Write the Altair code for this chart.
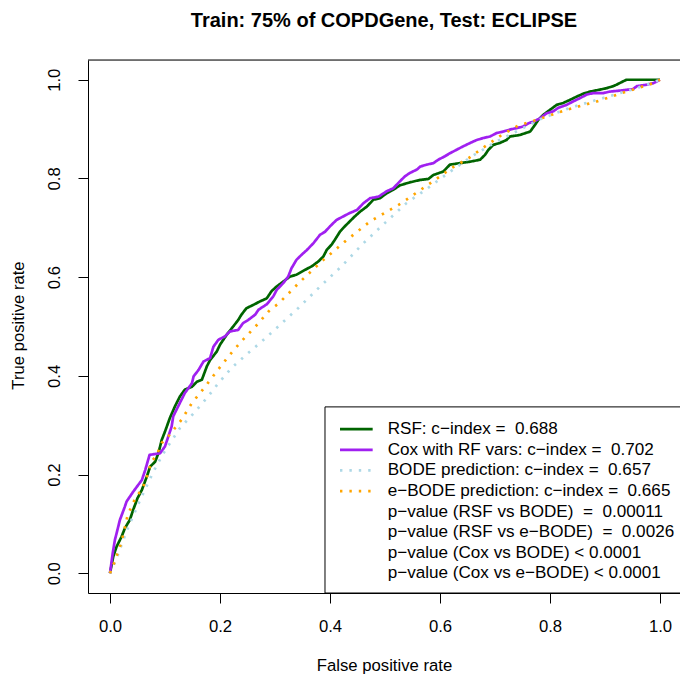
import altair as alt
import pandas as pd

FONT = "Liberation Sans"

# ---- data ----
rsf_fpr = [0, 0.006, 0.012, 0.021, 0.027, 0.036, 0.042, 0.05, 0.058, 0.067, 0.073, 0.082, 0.088, 0.094, 0.1, 0.109, 0.118, 0.127, 0.136, 0.149, 0.158, 0.167, 0.176, 0.182, 0.194, 0.2, 0.212, 0.224, 0.233, 0.239, 0.248, 0.261, 0.273, 0.285, 0.294, 0.303, 0.315, 0.327, 0.339, 0.355, 0.367, 0.379, 0.388, 0.394, 0.403, 0.409, 0.418, 0.427, 0.436, 0.445, 0.455, 0.467, 0.479, 0.491, 0.503, 0.515, 0.527, 0.545, 0.564, 0.579, 0.588, 0.606, 0.618, 0.636, 0.655, 0.673, 0.682, 0.688, 0.697, 0.709, 0.721, 0.727, 0.745, 0.764, 0.773, 0.779, 0.788, 0.8, 0.812, 0.824, 0.836, 0.849, 0.861, 0.873, 0.891, 0.903, 0.915, 0.921, 0.93, 0.939, 1.0]
rsf_tpr = [0, 0.034, 0.054, 0.074, 0.091, 0.108, 0.128, 0.152, 0.169, 0.196, 0.216, 0.226, 0.243, 0.27, 0.287, 0.315, 0.338, 0.358, 0.372, 0.378, 0.388, 0.392, 0.419, 0.432, 0.449, 0.463, 0.483, 0.5, 0.513, 0.524, 0.537, 0.544, 0.551, 0.557, 0.572, 0.581, 0.591, 0.601, 0.605, 0.615, 0.622, 0.632, 0.642, 0.655, 0.666, 0.676, 0.692, 0.703, 0.713, 0.723, 0.733, 0.743, 0.757, 0.76, 0.77, 0.777, 0.786, 0.792, 0.797, 0.799, 0.807, 0.814, 0.828, 0.831, 0.834, 0.838, 0.848, 0.858, 0.868, 0.872, 0.878, 0.885, 0.888, 0.895, 0.909, 0.919, 0.929, 0.939, 0.949, 0.953, 0.959, 0.966, 0.972, 0.976, 0.98, 0.983, 0.987, 0.99, 0.995, 1.0, 1.0]

cox_fpr = [0, 0.005, 0.009, 0.012, 0.018, 0.027, 0.03, 0.042, 0.058, 0.064, 0.072, 0.091, 0.1, 0.106, 0.112, 0.115, 0.127, 0.136, 0.149, 0.152, 0.161, 0.17, 0.182, 0.188, 0.197, 0.209, 0.218, 0.233, 0.242, 0.251, 0.264, 0.27, 0.285, 0.297, 0.303, 0.315, 0.324, 0.33, 0.339, 0.348, 0.358, 0.37, 0.382, 0.391, 0.4, 0.412, 0.424, 0.436, 0.449, 0.461, 0.473, 0.488, 0.503, 0.515, 0.527, 0.536, 0.545, 0.558, 0.564, 0.576, 0.588, 0.597, 0.609, 0.618, 0.63, 0.642, 0.655, 0.667, 0.679, 0.691, 0.703, 0.715, 0.727, 0.739, 0.751, 0.761, 0.77, 0.782, 0.794, 0.806, 0.815, 0.83, 0.842, 0.855, 0.867, 0.879, 0.897, 0.909, 0.927, 0.951, 0.958, 0.976, 0.988, 1.0]
cox_tpr = [0, 0.041, 0.068, 0.081, 0.108, 0.135, 0.145, 0.165, 0.189, 0.209, 0.24, 0.243, 0.257, 0.277, 0.297, 0.318, 0.345, 0.365, 0.385, 0.399, 0.412, 0.429, 0.436, 0.459, 0.473, 0.48, 0.49, 0.493, 0.507, 0.513, 0.524, 0.534, 0.545, 0.561, 0.574, 0.588, 0.601, 0.618, 0.635, 0.645, 0.655, 0.669, 0.686, 0.692, 0.703, 0.716, 0.723, 0.73, 0.736, 0.75, 0.76, 0.763, 0.774, 0.78, 0.794, 0.804, 0.811, 0.818, 0.824, 0.828, 0.831, 0.838, 0.845, 0.851, 0.858, 0.865, 0.872, 0.878, 0.882, 0.885, 0.892, 0.895, 0.899, 0.902, 0.905, 0.912, 0.915, 0.922, 0.932, 0.936, 0.943, 0.949, 0.956, 0.963, 0.97, 0.973, 0.973, 0.976, 0.978, 0.981, 0.987, 0.99, 0.993, 1.0]

bode_fpr = [0, 0.012, 0.03, 0.055, 0.079, 0.097, 0.127, 0.152, 0.176, 0.197, 0.221, 0.248, 0.276, 0.303, 0.342, 0.382, 0.421, 0.461, 0.5, 0.539, 0.57, 0.615, 0.658, 0.703, 0.751, 0.782, 0.836, 0.897, 0.958, 1.0]
bode_tpr = [0, 0.03, 0.085, 0.149, 0.206, 0.243, 0.294, 0.324, 0.355, 0.385, 0.416, 0.443, 0.47, 0.497, 0.537, 0.581, 0.622, 0.669, 0.71, 0.75, 0.774, 0.811, 0.845, 0.875, 0.902, 0.92, 0.943, 0.963, 0.983, 1.0]

ebode_fpr = [0, 0.007, 0.013, 0.019, 0.024, 0.032, 0.039, 0.047, 0.058, 0.065, 0.075, 0.085, 0.094, 0.108, 0.13, 0.149, 0.173, 0.194, 0.218, 0.239, 0.267, 0.291, 0.306, 0.345, 0.385, 0.427, 0.473, 0.53, 0.561, 0.591, 0.621, 0.652, 0.682, 0.712, 0.742, 0.777, 0.83, 0.885, 0.939, 0.988, 1.0]
ebode_tpr = [0, 0.019, 0.038, 0.057, 0.078, 0.117, 0.135, 0.154, 0.17, 0.188, 0.225, 0.24, 0.264, 0.28, 0.311, 0.345, 0.378, 0.409, 0.443, 0.47, 0.503, 0.534, 0.546, 0.59, 0.632, 0.672, 0.713, 0.75, 0.774, 0.797, 0.821, 0.841, 0.865, 0.888, 0.907, 0.919, 0.939, 0.956, 0.976, 0.993, 1.0]

series_names = ["RSF", "Cox", "BODE", "eBODE"]
series_colors = ["#006400", "#A020F0", "#ADD8E6", "#FFA500"]
series_dash = [[1, 0], [1, 0], [2.4, 7], [2.4, 7]]

legend_labels = [
    "RSF: c\u2212index = \u00a00.688",
    "Cox with RF vars: c\u2212index = \u00a00.702",
    "BODE prediction: c\u2212index = \u00a00.657",
    "e\u2212BODE prediction: c\u2212index = \u00a00.665",
    "p\u2212value (RSF vs BODE) \u00a0= \u00a00.00011",
    "p\u2212value (RSF vs e\u2212BODE) \u00a0= \u00a00.0026",
    "p\u2212value (Cox vs BODE) < 0.0001",
    "p\u2212value (Cox vs e\u2212BODE) < 0.0001",
]

x_ticks = [0.0, 0.2, 0.4, 0.6, 0.8, 1.0]
y_ticks = [0.0, 0.2, 0.4, 0.6, 0.8, 1.0]

title_text = "Train: 75% of COPDGene, Test: ECLIPSE"

# ---- tables ----
rows = []
for name, xs_, ys_ in [("RSF", rsf_fpr, rsf_tpr), ("Cox", cox_fpr, cox_tpr),
                       ("BODE", bode_fpr, bode_tpr), ("eBODE", ebode_fpr, ebode_tpr)]:
    for i, (a, b) in enumerate(zip(xs_, ys_)):
        rows.append({"series": name, "fpr": a, "tpr": b, "i": i})
curves = pd.DataFrame(rows)
legend_text_df = pd.DataFrame({"label": legend_labels, "row": list(range(len(legend_labels)))})
legend_line_df = pd.DataFrame({"series": series_names, "row": list(range(len(series_names)))})

W, H = 592, 533
x_scale = alt.Scale(domain=[-0.04, 1.0364], nice=False, zero=False)
y_scale = alt.Scale(domain=[-0.04, 1.04], nice=False, zero=False)
color_scale = alt.Scale(domain=series_names, range=series_colors)
dash_scale = alt.Scale(domain=series_names, range=series_dash)

x_axis = alt.Axis(values=x_ticks, format=".1f", grid=False, tickSize=10, tickColor="black",
                  tickWidth=1, domainColor="black", domainWidth=1, labelFont=FONT,
                  labelFontSize=16.7, labelColor="black", labelPadding=15, labelFlush=False,
                  labelOverlap=False, title="False positive rate", titleFont=FONT,
                  titleFontSize=16.7, titleFontWeight="normal", titleColor="black",
                  titleBaseline="alphabetic", titleY=77)
y_axis = alt.Axis(values=y_ticks, format=".1f", grid=False, tickSize=10, tickColor="black",
                  tickWidth=1, domainColor="black", domainWidth=1, labelFont=FONT,
                  labelFontSize=16.7, labelColor="black", labelAngle=270, labelAlign="center",
                  labelBaseline="middle", labelPadding=24, labelFlush=False, labelOverlap=False,
                  title="True positive rate", titleFont=FONT, titleFontSize=16.7,
                  titleFontWeight="normal", titleColor="black", titleAngle=270,
                  titleAlign="center", titleBaseline="alphabetic", titleX=-65, titleY=265)


def curve(name, width):
    return alt.Chart(curves).transform_filter(alt.datum.series == name).mark_line(
        strokeWidth=width, clip=True, strokeCap="butt", strokeJoin="round"
    ).encode(
        x=alt.X("fpr:Q", scale=x_scale, axis=x_axis),
        y=alt.Y("tpr:Q", scale=y_scale, axis=y_axis),
        order="i:Q",
        color=alt.Color("series:N", scale=color_scale, legend=None),
        strokeDash=alt.StrokeDash("series:N", scale=dash_scale, legend=None),
    )


layers = [curve("RSF", 2.7), curve("Cox", 2.7), curve("BODE", 2.7), curve("eBODE", 2.7)]

legend_box = alt.Chart(pd.DataFrame({"k": [0]})).mark_rect(
    fill="white", stroke="black", strokeWidth=1, clip=True
).encode(
    x=alt.datum(0.3909, scale=x_scale), x2=alt.datum(1.2),
    y=alt.datum(-0.04, scale=y_scale), y2=alt.datum(0.3371),
)

legend_lines = alt.Chart(legend_line_df).transform_calculate(
    ly="0.2919 - 0.04176 * datum.row", lx1="0.4182", lx2="0.4776"
).mark_rule(strokeWidth=2.7, strokeCap="butt").encode(
    x=alt.X("lx1:Q", scale=x_scale, axis=x_axis),
    x2="lx2:Q",
    y=alt.Y("ly:Q", scale=y_scale, axis=y_axis),
    color=alt.Color("series:N", scale=color_scale, legend=None),
    strokeDash=alt.StrokeDash("series:N", scale=dash_scale, legend=None),
)

legend_text = alt.Chart(legend_text_df).transform_calculate(
    ly="0.2919 - 0.04176 * datum.row", lx="0.5049"
).mark_text(align="left", baseline="middle", font=FONT, fontSize=17.1, color="black").encode(
    x=alt.X("lx:Q", scale=x_scale, axis=x_axis),
    y=alt.Y("ly:Q", scale=y_scale, axis=y_axis),
    text="label:N",
)

top_border = alt.Chart(pd.DataFrame({"k": [0]})).mark_rule(color="black", strokeWidth=1).encode(
    x=alt.value(0), x2=alt.value(W), y=alt.value(0)
)

chart = alt.layer(legend_box, *layers, legend_lines, legend_text, top_border).properties(
    width=W, height=H,
    title=alt.TitleParams(text=title_text, font=FONT, fontSize=20, fontWeight="bold",
                          color="black", anchor="middle", frame="group",
                          baseline="alphabetic", offset=12.5),
    autosize=alt.AutoSizeParams(type="none"),
    padding={"left": 88, "top": 60, "right": 0, "bottom": 81},
).configure_view(stroke=None).configure(background="white")

chart.save("out.html", embed_options={"renderer": "svg", "actions": False})
